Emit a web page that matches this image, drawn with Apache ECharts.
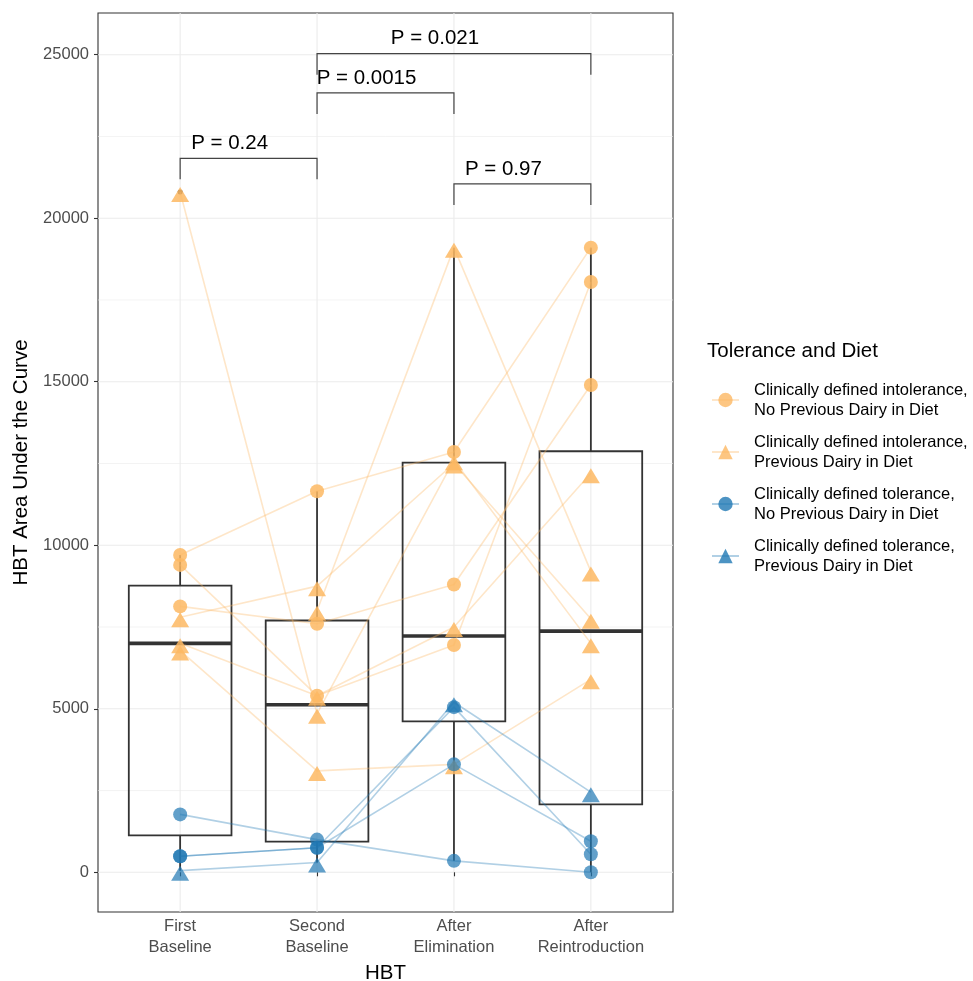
<!DOCTYPE html>
<html>
<head>
<meta charset="utf-8">
<script src="https://cdn.jsdelivr.net/npm/echarts@6/dist/echarts.min.js"></script>
<style>
  html, body { margin: 0; padding: 0; background: #fff; }
  #chart { width: 973px; height: 981px; }
</style>
</head>
<body>
<div id="chart"></div>
<script>
// HBT time points (x = 1..4)
const timepoints = ['First\nBaseline', 'Second\nBaseline', 'After\nElimination', 'After\nReintroduction']
const yTicks = [0, 5000, 10000, 15000, 20000, 25000]
const yMinor = [2500, 7500, 12500, 17500, 22500]

const groupNames = [
  'Clinically defined intolerance, No Previous Dairy in Diet',
  'Clinically defined intolerance, Previous Dairy in Diet',
  'Clinically defined tolerance, No Previous Dairy in Diet',
  'Clinically defined tolerance, Previous Dairy in Diet',
]

// AUC per subject at the 4 HBTs (null = missing)
const intolNoDairy = [
  [9700, 11650, 12850, 19100],
  [9400, 5400, 6950, 18050],
  [8130, 7600, 8800, 14900],
]
const intolDairy = [
  [7800, 8750, 12500, 7750],
  [6780, 3100, 3300, 5900],
  [null, 8000, 19100, 9200],
  [20800, 4850, 12600, 7000],
  [7000, 5400, 7500, 12200],
]
const tolNoDairy = [
  [1770, 1000, 350, 0],
  [490, 750, 5050, 550],
  [490, 750, 3300, 950],
]
const tolDairy = [
  [50, 300, 5200, 2450],
]

// significance brackets
const pLabels = ['P = 0.24', 'P = 0.0015', 'P = 0.021', 'P = 0.97']
const pFrom = [1, 2, 2, 3]
const pTo = [2, 3, 4, 4]
const pY = [21830, 23830, 25030, 21050]

const FONT = 'Liberation Sans, Arial, Helvetica, sans-serif'
const ORANGE = '#FDB863'
const BLUE = '#1F78B4'

const groups = [
  { name: groupNames[0], subjects: intolNoDairy, color: ORANGE, symbol: 'circle' },
  { name: groupNames[1], subjects: intolDairy, color: ORANGE, symbol: 'triangle' },
  { name: groupNames[2], subjects: tolNoDairy, color: BLUE, symbol: 'circle' },
  { name: groupNames[3], subjects: tolDairy, color: BLUE, symbol: 'triangle' },
]

// boxplot stats (type 7 quantiles, 1.5 IQR whiskers) over all subjects
function quantile(s, p) {
  const h = (s.length - 1) * p
  const lo = Math.floor(h)
  const hi = Math.min(lo + 1, s.length - 1)
  return s[lo] + (h - lo) * (s[hi] - s[lo])
}
const boxData = []
const outliers = []
timepoints.forEach((_, i) => {
  const vals = groups
    .flatMap((g) => g.subjects.map((s) => s[i]))
    .filter((v) => v != null)
    .sort((a, b) => a - b)
  const q1 = quantile(vals, 0.25)
  const med = quantile(vals, 0.5)
  const q3 = quantile(vals, 0.75)
  const iqr = q3 - q1
  const inside = vals.filter((v) => v >= q1 - 1.5 * iqr && v <= q3 + 1.5 * iqr)
  boxData.push([i + 1, inside[0], q1, med, q3, inside[inside.length - 1]])
  vals.filter((v) => v < q1 - 1.5 * iqr || v > q3 + 1.5 * iqr).forEach((v) => outliers.push([i + 1, v]))
})

const gridData = [
  ...yTicks.map((v) => [v, 0]),
  ...yMinor.map((v) => [v, 1]),
  ...timepoints.map((_, i) => [i + 1, 2]),
]

const chart = echarts.init(document.getElementById('chart'))

const series = []
// panel grid lines
series.push({
  type: 'custom',
  silent: true,
  data: gridData,
  encode: { x: 0, y: 1 },
  z: 0,
  renderItem: (params, api) => {
    const cs = params.coordSys
    const v = api.value(0)
    const kind = api.value(1)
    if (kind === 2) {
      const p = api.coord([v, 0])
      return { type: 'line', shape: { x1: p[0], y1: cs.y, x2: p[0], y2: cs.y + cs.height }, style: { stroke: '#EBEBEB', lineWidth: 1.1 } }
    }
    const p = api.coord([1, v])
    return {
      type: 'line',
      shape: { x1: cs.x, y1: p[1], x2: cs.x + cs.width, y2: p[1] },
      style: { stroke: '#EBEBEB', lineWidth: kind === 0 ? 1.1 : 0.6 },
    }
  },
})
// boxes
series.push({
  type: 'custom',
  silent: true,
  data: boxData,
  z: 1,
  renderItem: (params, api) => {
    const x = api.value(0)
    const half = api.size([0.375, 0])[0]
    const lo = api.coord([x, api.value(1)])
    const q1 = api.coord([x, api.value(2)])
    const md = api.coord([x, api.value(3)])
    const q3 = api.coord([x, api.value(4)])
    const hi = api.coord([x, api.value(5)])
    const st = { stroke: '#333333', lineWidth: 1.8, fill: null }
    return {
      type: 'group',
      children: [
        { type: 'line', shape: { x1: lo[0], y1: lo[1], x2: lo[0], y2: q1[1] }, style: st },
        { type: 'line', shape: { x1: hi[0], y1: hi[1], x2: hi[0], y2: q3[1] }, style: st },
        { type: 'rect', shape: { x: q3[0] - half, y: q3[1], width: 2 * half, height: q1[1] - q3[1] }, style: st },
        { type: 'line', shape: { x1: md[0] - half, y1: md[1], x2: md[0] + half, y2: md[1] }, style: { stroke: '#333333', lineWidth: 3.6 } },
      ],
    }
  },
})
// outliers
series.push({
  type: 'scatter',
  name: 'outliers',
  silent: true,
  data: outliers,
  symbolSize: 5,
  itemStyle: { color: '#333333', opacity: 1 },
  z: 1,
})
// subject trajectories
groups.forEach((g) => {
  g.subjects.forEach((s) => {
    series.push({
      type: 'line',
      name: g.name,
      silent: true,
      data: s.map((v, i) => (v == null ? null : [i + 1, v])).filter(Boolean),
      showSymbol: false,
      symbol: g.symbol,
      lineStyle: { color: g.color, width: 1.6, opacity: 0.35 },
      itemStyle: { color: g.color, opacity: 0.8 },
      z: 2,
    })
  })
})
// points
groups.forEach((g) => {
  const pts = []
  g.subjects.forEach((s) => s.forEach((v, i) => { if (v != null) pts.push([i + 1, v]) }))
  series.push({
    type: 'scatter',
    name: 'pts ' + g.name,
    silent: true,
    data: pts,
    symbol: g.symbol,
    symbolSize: g.symbol === 'circle' ? 14 : [18, 15],
    symbolOffset: g.symbol === 'circle' ? [0, 0] : [0, 2.5],
    itemStyle: { color: g.color, opacity: g.color === BLUE ? 0.7 : 0.85 },
    z: 3,
  })
})
// p-value brackets
series.push({
  type: 'custom',
  silent: true,
  data: pLabels.map((_, i) => [pFrom[i], pTo[i], pY[i]]),
  z: 4,
  renderItem: (params, api) => {
    const a = api.coord([api.value(0), api.value(2)])
    const b = api.coord([api.value(1), api.value(2)])
    const drop = 21
    return {
      type: 'group',
      children: [
        {
          type: 'polyline',
          shape: { points: [[a[0], a[1] + drop], [a[0], a[1]], [b[0], b[1]], [b[0], b[1] + drop]] },
          style: { stroke: '#444444', lineWidth: 1.2, fill: null },
        },
        {
          type: 'text',
          style: {
            text: pLabels[params.dataIndex],
            x: (a[0] + b[0]) / 2 - 19,
            y: a[1] - 15,
            fill: '#000000',
            fontSize: 20.5,
            fontFamily: FONT,
            align: 'center',
            verticalAlign: 'middle',
          },
        },
      ],
    }
  },
})

const option = {
  animation: false,
  backgroundColor: '#ffffff',
  textStyle: { fontFamily: FONT },
  title: {
    text: 'Tolerance and Diet',
    left: 707,
    top: 341,
    padding: 0,
    textStyle: { fontSize: 20.5, fontWeight: 'normal', color: '#000000', fontFamily: FONT },
  },
  legend: {
    data: groupNames,
    orient: 'vertical',
    left: 711,
    top: 370,
    padding: 0,
    itemWidth: 27,
    itemHeight: 18,
    itemGap: -8,
    selectedMode: false,
    formatter: (n) => n.replace(', ', ',\n'),
    textStyle: { fontSize: 16.5, color: '#000000', lineHeight: 20, fontFamily: FONT, padding: [0, 0, 20, 10] },
  },
  grid: {
    left: 98,
    top: 13,
    width: 575,
    height: 899,
    show: true,
    borderColor: '#333333',
    borderWidth: 1.1,
    backgroundColor: '#ffffff',
    containLabel: false,
    outerBoundsMode: 'none',
  },
  xAxis: {
    type: 'value',
    min: 0.4,
    max: 4.6,
    name: 'HBT',
    nameLocation: 'middle',
    nameGap: 46,
    nameTextStyle: { fontSize: 20.5, color: '#000000', fontFamily: FONT },
    axisLine: { show: false },
    splitLine: { show: false },
    axisTick: { show: true, length: 4, customValues: [1, 2, 3, 4], lineStyle: { color: '#333333', width: 1.1 } },
    axisLabel: {
      customValues: [1, 2, 3, 4],
      formatter: (v) => timepoints[Math.round(v) - 1] || '',
      fontSize: 16.5,
      lineHeight: 20.5,
      color: '#4D4D4D',
      margin: 4.5,
      fontFamily: FONT,
    },
  },
  yAxis: {
    type: 'value',
    min: -1214,
    max: 26275,
    name: 'HBT Area Under the Curve',
    nameLocation: 'middle',
    nameGap: 58,
    nameTextStyle: { fontSize: 20.5, color: '#000000', fontFamily: FONT },
    axisLine: { show: false },
    splitLine: { show: false },
    axisTick: { show: true, length: 4, customValues: yTicks, lineStyle: { color: '#333333', width: 1.1 } },
    axisLabel: {
      customValues: yTicks,
      formatter: (v) => String(v),
      fontSize: 16.5,
      color: '#4D4D4D',
      margin: 9,
      fontFamily: FONT,
    },
  },
  series: series,
}

chart.setOption(option)
</script>
</body>
</html>
